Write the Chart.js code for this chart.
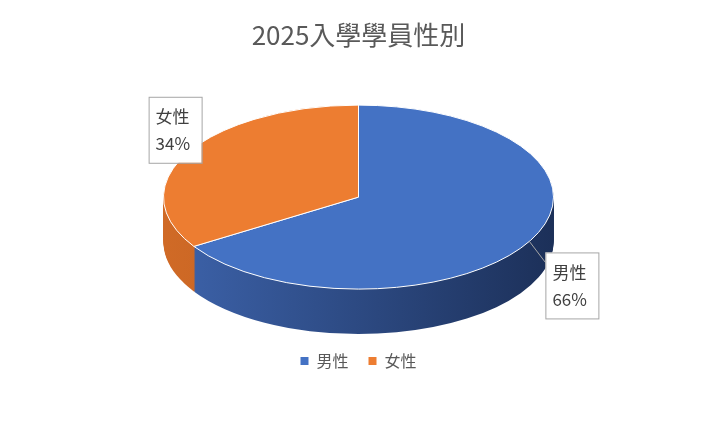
<!DOCTYPE html>
<html><head><meta charset="utf-8">
<script src="https://cdn.jsdelivr.net/npm/chart.js@4/dist/chart.umd.min.js"></script>
<style>html,body{margin:0;background:#fff}#w{width:717px;height:431px}</style>
</head><body><div id="w"><canvas id="c"></canvas></div>
<script>
const categories = ['男性', '女性'];
const values = [66, 34];
const colors = ['#4472C4', '#ED7D31'];
const sideDark = ['#1c3059', '#a8541c'];
const sideLight = ['#3d63ab', '#d06a26'];
const FONT = '"Noto Sans CJK TC","Noto Sans",sans-serif';
const RX = 195, RY = 92, DEPTH = 45;

const pie3d = {
  id: 'pie3d',
  beforeDatasetsDraw(chart) {
    const ctx = chart.ctx;
    const arcs = chart.getDatasetMeta(0).data;
    const a0 = arcs[0];
    const cx = a0.x, cy = a0.y, r = a0.outerRadius;
    const kx = RX / r, ky = RY / r;
    const xf = () => { ctx.translate(cx, cy); ctx.scale(kx, ky); ctx.translate(-cx, -cy); };
    const path = (a) => { ctx.beginPath(); ctx.moveTo(cx, cy); ctx.arc(cx, cy, r, a.startAngle, a.endAngle); ctx.closePath(); };
    for (let d = DEPTH; d >= 1; d--) {
      arcs.forEach((a, i) => {
        ctx.save(); ctx.translate(0, d); xf();
        const g = ctx.createLinearGradient(cx - r, 0, cx + r, 0);
        g.addColorStop(0, sideLight[i]); g.addColorStop(1, sideDark[i]);
        ctx.fillStyle = g; path(a); ctx.fill(); ctx.restore();
      });
    }
    arcs.forEach((a, i) => {
      ctx.save(); xf(); ctx.fillStyle = colors[i]; path(a); ctx.fill();
      ctx.restore();
      ctx.save(); xf(); path(a); ctx.restore();
      ctx.strokeStyle = '#ffffff'; ctx.lineWidth = 1; ctx.stroke();
    });
    // labels
    ctx.font = '17px ' + FONT;
    arcs.forEach((a, i) => {
      const m = (a.startAngle + a.endAngle) / 2;
      const px = cx + RX * Math.cos(m), py = cy + RY * Math.sin(m);
      const w = 53, h = 66;
      let bx, by, lx, ly;
      if (Math.cos(m) > 0) { bx = px + 16; by = py + 11; lx = bx; ly = by + 10; }
      else { bx = px - 39; by = py - 56; lx = bx + w; ly = by + 45; }
      ctx.strokeStyle = '#a6a6a6'; ctx.lineWidth = 1;
      ctx.beginPath(); ctx.moveTo(px, py); ctx.lineTo(lx, ly); ctx.stroke();
      ctx.fillStyle = '#fff'; ctx.fillRect(bx, by, w, h);
      ctx.strokeRect(bx + 0.5, by + 0.5, w, h);
      ctx.fillStyle = '#404040'; ctx.textAlign = 'left'; ctx.textBaseline = 'middle';
      ctx.fillText(categories[i], bx + 7, by + 20);
      ctx.fillText(values[i] + '%', bx + 7, by + 47);
    });
    return false;
  }
};

new Chart(document.getElementById('c'), {
  type: 'pie',
  data: { labels: categories, datasets: [{ data: values, backgroundColor: colors, borderWidth: 0 }] },
  options: {
    responsive: true, maintainAspectRatio: false, animation: false,
    events: [],
    layout: { padding: { top: 0, bottom: 52, left: 0, right: 0 } },
    plugins: {
      title: { display: true, text: '2025入學學員性別', color: '#595959',
        font: { family: FONT, size: 26, weight: 'normal' }, padding: { top: 20, bottom: 10 } },
      legend: { position: 'bottom', labels: { usePointStyle: true, pointStyle: 'rect', boxWidth: 8, boxHeight: 8,
        color: '#595959', font: { family: FONT, size: 16 }, padding: 20 } },
      tooltip: { enabled: false }
    }
  },
  plugins: [pie3d]
});
</script></body></html>
